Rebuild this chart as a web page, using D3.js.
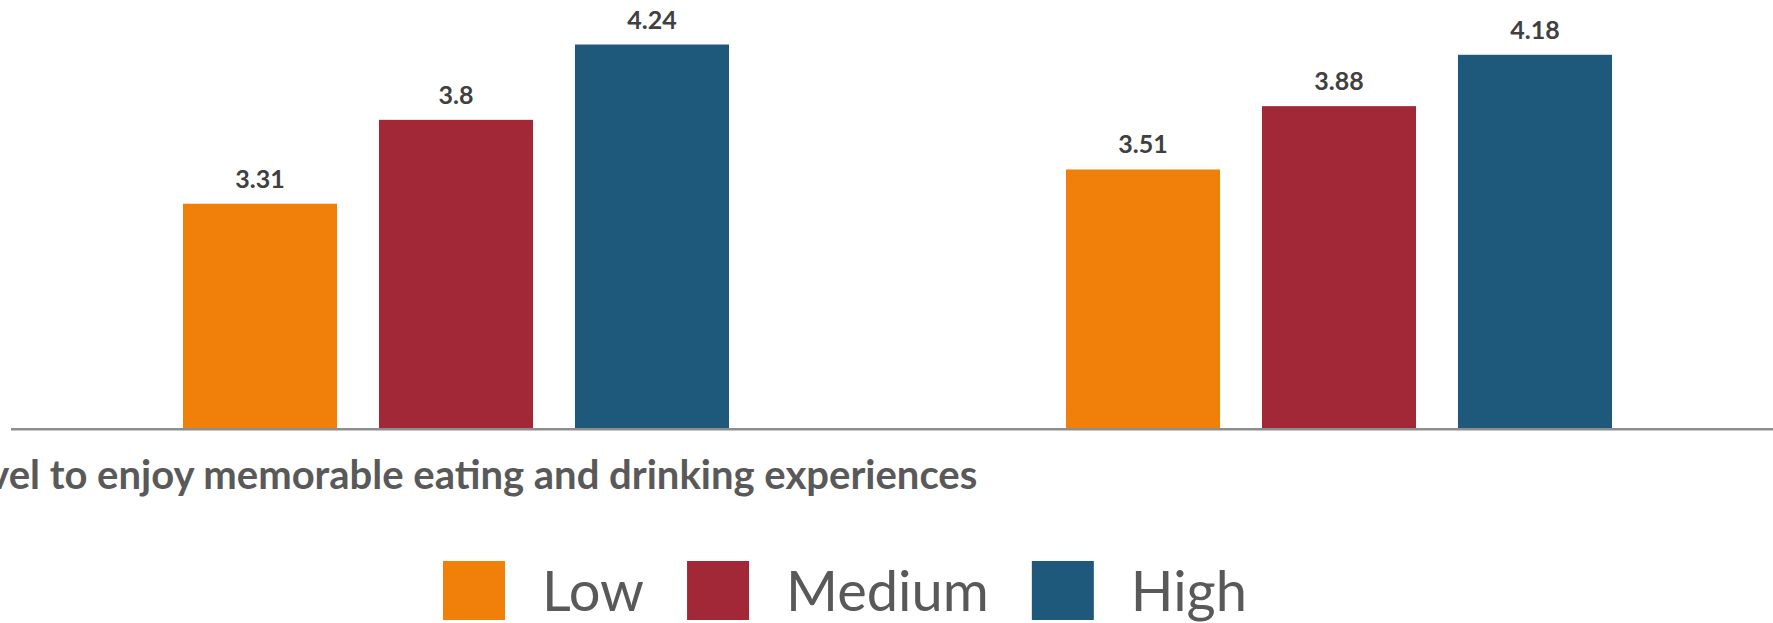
<!DOCTYPE html>
<html>
<head>
<meta charset="utf-8">
<script src="https://cdnjs.cloudflare.com/ajax/libs/d3/7.8.5/d3.min.js"></script>
<style>
  body { margin: 0; background: #fff; }
  svg { display: block; }
</style>
</head>
<body>
<script>
// categories and series
var categories = ["Travel to enjoy memorable eating and drinking experiences", ""];
var series = ["Low", "Medium", "High"];
var lowValues = [3.31, 3.51];
var mediumValues = [3.8, 3.88];
var highValues = [4.24, 4.18];
var colors = ["#F0800A", "#A22838", "#1E587B"];

var width = 1773,
    height = 623,
    axisY = 428;

var svg = d3.select("body").append("svg")
    .attr("width", width)
    .attr("height", height);

var data = categories.map(function (c, i) {
    return {
        category: c,
        values: [lowValues[i], mediumValues[i], highValues[i]]
    };
});

// group band and bar band inside each group
var x0 = d3.scaleBand()
    .domain(categories)
    .range([14, 1780])
    .padding(0);

var x1 = d3.scaleBand()
    .domain(series)
    .range([169, 715])
    .paddingInner(0.214)
    .paddingOuter(0);

var y = d3.scaleLinear()
    .domain([2, 4.5])
    .range([axisY, 0]);

var color = d3.scaleOrdinal()
    .domain(series)
    .range(colors);

var groups = svg.selectAll(".group")
    .data(data)
    .enter().append("g")
    .attr("class", "group")
    .attr("transform", function (d) {
        return "translate(" + x0(d.category) + ",0)";
    });

groups.selectAll("rect")
    .data(function (d) {
        return series.map(function (s, j) {
            return { key: s, value: d.values[j] };
        });
    })
    .enter().append("rect")
    .attr("x", function (d) { return x1(d.key); })
    .attr("y", function (d) { return y(d.value); })
    .attr("width", x1.bandwidth())
    .attr("height", function (d) { return y(y.domain()[0]) - y(d.value); })
    .attr("fill", function (d) { return color(d.key); });

// value labels
groups.selectAll(".value")
    .data(function (d) {
        return series.map(function (s, j) {
            return { key: s, value: d.values[j] };
        });
    })
    .enter().append("text")
    .attr("class", "value")
    .attr("x", function (d) { return x1(d.key) + x1.bandwidth() / 2; })
    .attr("y", function (d) { return y(d.value) - 16; })
    .attr("text-anchor", "middle")
    .attr("font-family", "Lato, sans-serif")
    .attr("font-weight", "bold")
    .attr("font-size", "25px")
    .attr("fill", "#404040")
    .text(function (d) { return d.value; });

// baseline
svg.append("line")
    .attr("x1", 11)
    .attr("x2", width)
    .attr("y1", axisY + 1.2)
    .attr("y2", axisY + 1.2)
    .attr("stroke", "#8e8e8e")
    .attr("stroke-width", 2.6);

// category labels
svg.selectAll(".cat")
    .data(categories)
    .enter().append("text")
    .attr("class", "cat")
    .attr("x", function (d) { return x0(d) + x0.bandwidth() / 2; })
    .attr("y", 489)
    .attr("text-anchor", "middle")
    .attr("font-family", "Lato, sans-serif")
    .attr("font-weight", "bold")
    .attr("font-size", "40px")
    .attr("fill", "#595959")
    .text(function (d) { return d; });

// legend
var legend = svg.append("g").attr("transform", "translate(443,0)");
var lx = 0;
series.forEach(function (s) {
    var item = legend.append("g").attr("transform", "translate(" + lx + ",0)");
    item.append("rect")
        .attr("x", 0)
        .attr("y", 561)
        .attr("width", 62)
        .attr("height", 59)
        .attr("fill", color(s));
    var t = item.append("text")
        .attr("x", 99)
        .attr("y", 611)
        .attr("font-family", "Lato, sans-serif")
        .attr("font-size", "56px")
        .attr("fill", "#595959")
        .text(s);
    lx += 99 + t.node().getComputedTextLength() + 43;
});
</script>
</body>
</html>
